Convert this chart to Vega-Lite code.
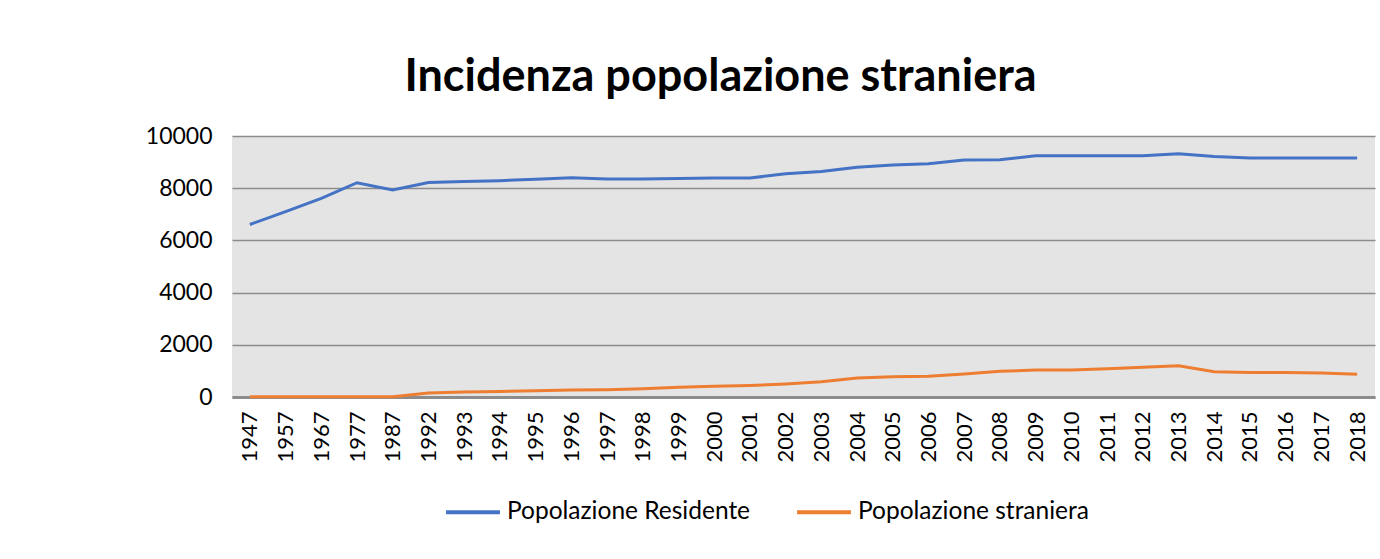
{
  "$schema": "https://vega.github.io/schema/vega-lite/v6.json",
  "width": 1143,
  "height": 261,
  "autosize": {"type": "none"},
  "padding": {"left": 232, "top": 136, "right": 5, "bottom": 162},
  "background": "white",
  "title": {
    "text": "Incidenza popolazione straniera",
    "font": "Lato",
    "fontSize": 45,
    "fontWeight": "bold",
    "color": "#000000",
    "anchor": "middle",
    "dx": -83,
    "offset": 25
  },
  "config": {
    "view": {"fill": "#e4e4e4", "stroke": null}
  },
  "data": {
    "values": [
      {"year": "1947", "series": "Popolazione Residente", "value": 6610},
      {"year": "1957", "series": "Popolazione Residente", "value": 7100},
      {"year": "1967", "series": "Popolazione Residente", "value": 7610},
      {"year": "1977", "series": "Popolazione Residente", "value": 8210},
      {"year": "1987", "series": "Popolazione Residente", "value": 7930},
      {"year": "1992", "series": "Popolazione Residente", "value": 8220},
      {"year": "1993", "series": "Popolazione Residente", "value": 8260},
      {"year": "1994", "series": "Popolazione Residente", "value": 8290},
      {"year": "1995", "series": "Popolazione Residente", "value": 8340},
      {"year": "1996", "series": "Popolazione Residente", "value": 8400},
      {"year": "1997", "series": "Popolazione Residente", "value": 8350},
      {"year": "1998", "series": "Popolazione Residente", "value": 8350},
      {"year": "1999", "series": "Popolazione Residente", "value": 8370},
      {"year": "2000", "series": "Popolazione Residente", "value": 8390},
      {"year": "2001", "series": "Popolazione Residente", "value": 8390},
      {"year": "2002", "series": "Popolazione Residente", "value": 8550},
      {"year": "2003", "series": "Popolazione Residente", "value": 8640},
      {"year": "2004", "series": "Popolazione Residente", "value": 8800},
      {"year": "2005", "series": "Popolazione Residente", "value": 8890},
      {"year": "2006", "series": "Popolazione Residente", "value": 8940},
      {"year": "2007", "series": "Popolazione Residente", "value": 9080},
      {"year": "2008", "series": "Popolazione Residente", "value": 9090},
      {"year": "2009", "series": "Popolazione Residente", "value": 9240},
      {"year": "2010", "series": "Popolazione Residente", "value": 9240},
      {"year": "2011", "series": "Popolazione Residente", "value": 9240},
      {"year": "2012", "series": "Popolazione Residente", "value": 9240},
      {"year": "2013", "series": "Popolazione Residente", "value": 9320},
      {"year": "2014", "series": "Popolazione Residente", "value": 9210},
      {"year": "2015", "series": "Popolazione Residente", "value": 9160},
      {"year": "2016", "series": "Popolazione Residente", "value": 9160},
      {"year": "2017", "series": "Popolazione Residente", "value": 9160},
      {"year": "2018", "series": "Popolazione Residente", "value": 9160},
      {"year": "1947", "series": "Popolazione straniera", "value": 10},
      {"year": "1957", "series": "Popolazione straniera", "value": 10},
      {"year": "1967", "series": "Popolazione straniera", "value": 10},
      {"year": "1977", "series": "Popolazione straniera", "value": 10},
      {"year": "1987", "series": "Popolazione straniera", "value": 10},
      {"year": "1992", "series": "Popolazione straniera", "value": 150},
      {"year": "1993", "series": "Popolazione straniera", "value": 190},
      {"year": "1994", "series": "Popolazione straniera", "value": 215},
      {"year": "1995", "series": "Popolazione straniera", "value": 240},
      {"year": "1996", "series": "Popolazione straniera", "value": 265},
      {"year": "1997", "series": "Popolazione straniera", "value": 280},
      {"year": "1998", "series": "Popolazione straniera", "value": 320},
      {"year": "1999", "series": "Popolazione straniera", "value": 370},
      {"year": "2000", "series": "Popolazione straniera", "value": 410},
      {"year": "2001", "series": "Popolazione straniera", "value": 440},
      {"year": "2002", "series": "Popolazione straniera", "value": 500},
      {"year": "2003", "series": "Popolazione straniera", "value": 580},
      {"year": "2004", "series": "Popolazione straniera", "value": 730},
      {"year": "2005", "series": "Popolazione straniera", "value": 780},
      {"year": "2006", "series": "Popolazione straniera", "value": 795},
      {"year": "2007", "series": "Popolazione straniera", "value": 880},
      {"year": "2008", "series": "Popolazione straniera", "value": 985},
      {"year": "2009", "series": "Popolazione straniera", "value": 1035},
      {"year": "2010", "series": "Popolazione straniera", "value": 1035},
      {"year": "2011", "series": "Popolazione straniera", "value": 1085},
      {"year": "2012", "series": "Popolazione straniera", "value": 1140},
      {"year": "2013", "series": "Popolazione straniera", "value": 1200},
      {"year": "2014", "series": "Popolazione straniera", "value": 970},
      {"year": "2015", "series": "Popolazione straniera", "value": 935},
      {"year": "2016", "series": "Popolazione straniera", "value": 935},
      {"year": "2017", "series": "Popolazione straniera", "value": 920},
      {"year": "2018", "series": "Popolazione straniera", "value": 870}
    ]
  },
  "mark": {"type": "line", "strokeWidth": 3},
  "encoding": {
    "x": {
      "field": "year",
      "type": "ordinal",
      "sort": null,
      "scale": {"padding": 0.5},
      "axis": {
        "title": null,
        "labelAngle": -90,
        "labelFont": "Lato",
        "labelFontSize": 22,
        "labelColor": "#000000",
        "labelPadding": 14,
        "ticks": false,
        "domainColor": "#8c8c8c",
        "domainWidth": 3,
        "grid": false
      }
    },
    "y": {
      "field": "value",
      "type": "quantitative",
      "scale": {"domain": [0, 10000], "nice": false},
      "axis": {
        "title": null,
        "values": [0, 2000, 4000, 6000, 8000, 10000],
        "format": "d",
        "labelFont": "Lato",
        "labelFontSize": 23,
        "labelColor": "#000000",
        "labelPadding": 20,
        "ticks": false,
        "domain": false,
        "grid": true,
        "gridColor": "#8c8c8c",
        "gridWidth": 1.5,
        "gridOpacity": 1
      }
    },
    "color": {
      "field": "series",
      "type": "nominal",
      "scale": {
        "domain": ["Popolazione Residente", "Popolazione straniera"],
        "range": ["#4472C4", "#ED7D31"]
      },
      "legend": {
        "title": null,
        "orient": "none",
        "direction": "horizontal",
        "legendX": 212,
        "legendY": 347,
        "symbolType": "stroke",
        "symbolSize": 2900,
        "symbolStrokeWidth": 4,
        "labelFont": "Lato",
        "labelFontSize": 24.5,
        "labelLimit": 0,
        "labelColor": "#000000",
        "labelOffset": 5,
        "columnPadding": 38
      }
    }
  }
}
